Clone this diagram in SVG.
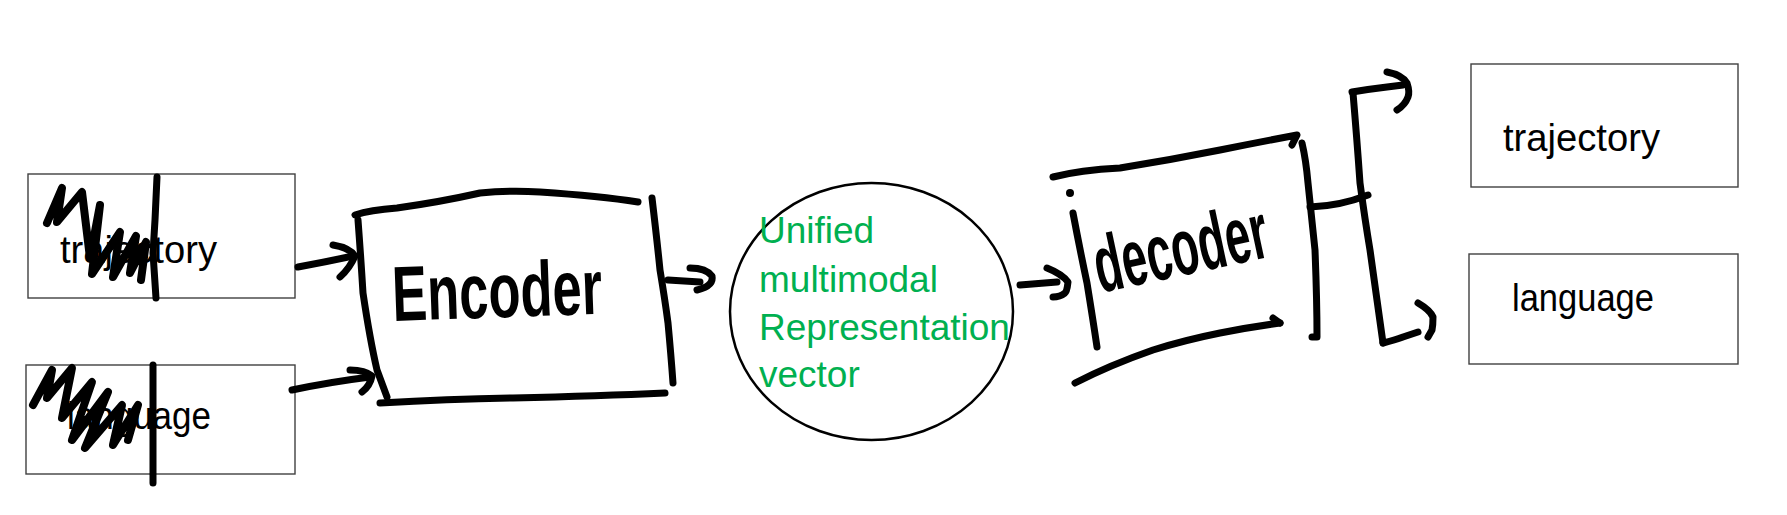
<svg xmlns="http://www.w3.org/2000/svg" width="1787" height="515" viewBox="0 0 1787 515">
<style>
.box{fill:#fff;stroke:#404040;stroke-width:1.4}
.ink{fill:none;stroke:#000;stroke-width:7;stroke-linecap:round;stroke-linejoin:round}
.scr{fill:none;stroke:#000;stroke-width:8;stroke-linecap:round;stroke-linejoin:round}
.lbl{font-family:"Liberation Sans",Arial,sans-serif;font-size:38px;fill:#000}
.grn{font-family:"Liberation Sans",Arial,sans-serif;font-size:37px;fill:#00B050}
.hand{font-family:"Liberation Sans",Arial,sans-serif;font-weight:bold;fill:#000}
</style>
<rect width="1787" height="515" fill="#fff"/>
<g id="in-trajectory">
<rect class="box" x="28" y="174" width="267" height="124"/>
<text class="lbl" x="60" y="263" textLength="157" lengthAdjust="spacingAndGlyphs">trajectory</text>
<path class="scr" d="M47,223 L62,188 L57,222 L82,192 L90,258 L100,205 L92,274 L120,232 L113,277 L136,236 L130,273 L146,242 L141,280"/>
<path class="ink" d="M157,177 L155,220 L153,253 L156,298"/>
</g>
<g id="in-language">
<rect class="box" x="26" y="365" width="269" height="109"/>
<text class="lbl" x="67" y="429" textLength="144" lengthAdjust="spacingAndGlyphs">language</text>
<path class="scr" d="M33,405 L52,370 L47,398 L72,368 L62,418 L92,382 L72,440 L108,392 L85,448 L122,405 L113,445 L138,405 L128,440"/>
<path class="ink" d="M153,365 L153,483"/>
</g>
<g id="encoder">
<path class="ink" d="M355,215 Q370,210 397,208 Q440,202 480,193 Q510,190 540,192 Q600,196 638,202"/>
<path class="ink" d="M358,220 Q361,260 363,293 Q370,340 377,370 L387,397"/>
<path class="ink" d="M380,403 Q450,399 513,398 Q600,396 665,393"/>
<path class="ink" d="M652,198 Q657,240 660,270 Q665,300 668,323 Q671,355 673,383"/>
<text class="hand" x="393" y="321" font-size="78" textLength="210" lengthAdjust="spacingAndGlyphs" transform="rotate(-2 393 321)">Encoder</text>
</g>
<g id="vector">
<ellipse cx="871.5" cy="311.5" rx="141.5" ry="128.5" fill="none" stroke="#000" stroke-width="2.5"/>
<text class="grn" x="759" y="243">Unified</text>
<text class="grn" x="759" y="292">multimodal</text>
<text class="grn" x="759" y="340">Representation</text>
<text class="grn" x="759" y="387">vector</text>
</g>
<g id="decoder">
<path class="ink" d="M1053,177 Q1080,170 1120,168 Q1170,160 1220,150 Q1260,142 1297,135 L1292,145"/>
<circle cx="1070" cy="193" r="4" fill="#000"/>
<path class="ink" d="M1073,213 Q1080,250 1087,283 Q1093,320 1097,347"/>
<path class="ink" d="M1302,143 Q1306,160 1308,183 Q1312,220 1315,250 Q1317,300 1317,337 L1312,337"/>
<path class="ink" d="M1280,323 Q1250,327 1220,333 Q1185,340 1153,350 Q1110,365 1075,383"/>
<path class="ink" d="M1280,323 L1273,318"/>
<text class="hand" x="1100" y="293" font-size="80" textLength="176" lengthAdjust="spacingAndGlyphs" transform="rotate(-12 1100 293)">decoder</text>
</g>
<g id="out-trajectory">
<rect class="box" x="1471" y="64" width="267" height="123"/>
<text class="lbl" x="1503" y="151" textLength="157" lengthAdjust="spacingAndGlyphs">trajectory</text>
</g>
<g id="out-language">
<rect class="box" x="1469" y="254" width="269" height="110"/>
<text class="lbl" x="1512" y="311" textLength="142" lengthAdjust="spacingAndGlyphs">language</text>
</g>
<g id="connectors">
<path class="ink" d="M298,267 Q325,262 353,256"/>
<path class="ink" d="M333,245 Q350,248 355,256 Q350,268 340,277"/>
<path class="ink" d="M292,390 Q330,382 370,377"/>
<path class="ink" d="M350,370 Q365,370 372,376 Q370,386 362,392"/>
<path class="ink" d="M668,280 L700,282"/>
<path class="ink" d="M690,268 Q706,268 712,276 Q714,286 697,290"/>
<path class="ink" d="M1020,285 L1057,282"/>
<path class="ink" d="M1047,268 Q1062,274 1068,282 Q1067,292 1065,293 Q1060,297 1053,297"/>
<path class="ink" d="M1310,207 Q1340,206 1368,195"/>
<path class="ink" d="M1353,93 Q1357,140 1360,183 Q1365,220 1370,250 Q1377,300 1383,343"/>
<path class="ink" d="M1352,92 Q1370,89 1387,87 L1403,85"/>
<path class="ink" d="M1387,72 Q1402,75 1407,83 Q1410,92 1408,97 Q1405,105 1397,110"/>
<path class="ink" d="M1383,343 Q1395,340 1403,337 L1418,332"/>
<path class="ink" d="M1418,303 Q1430,310 1433,317 Q1433,325 1432,330 L1428,337"/>
</g>
</svg>
